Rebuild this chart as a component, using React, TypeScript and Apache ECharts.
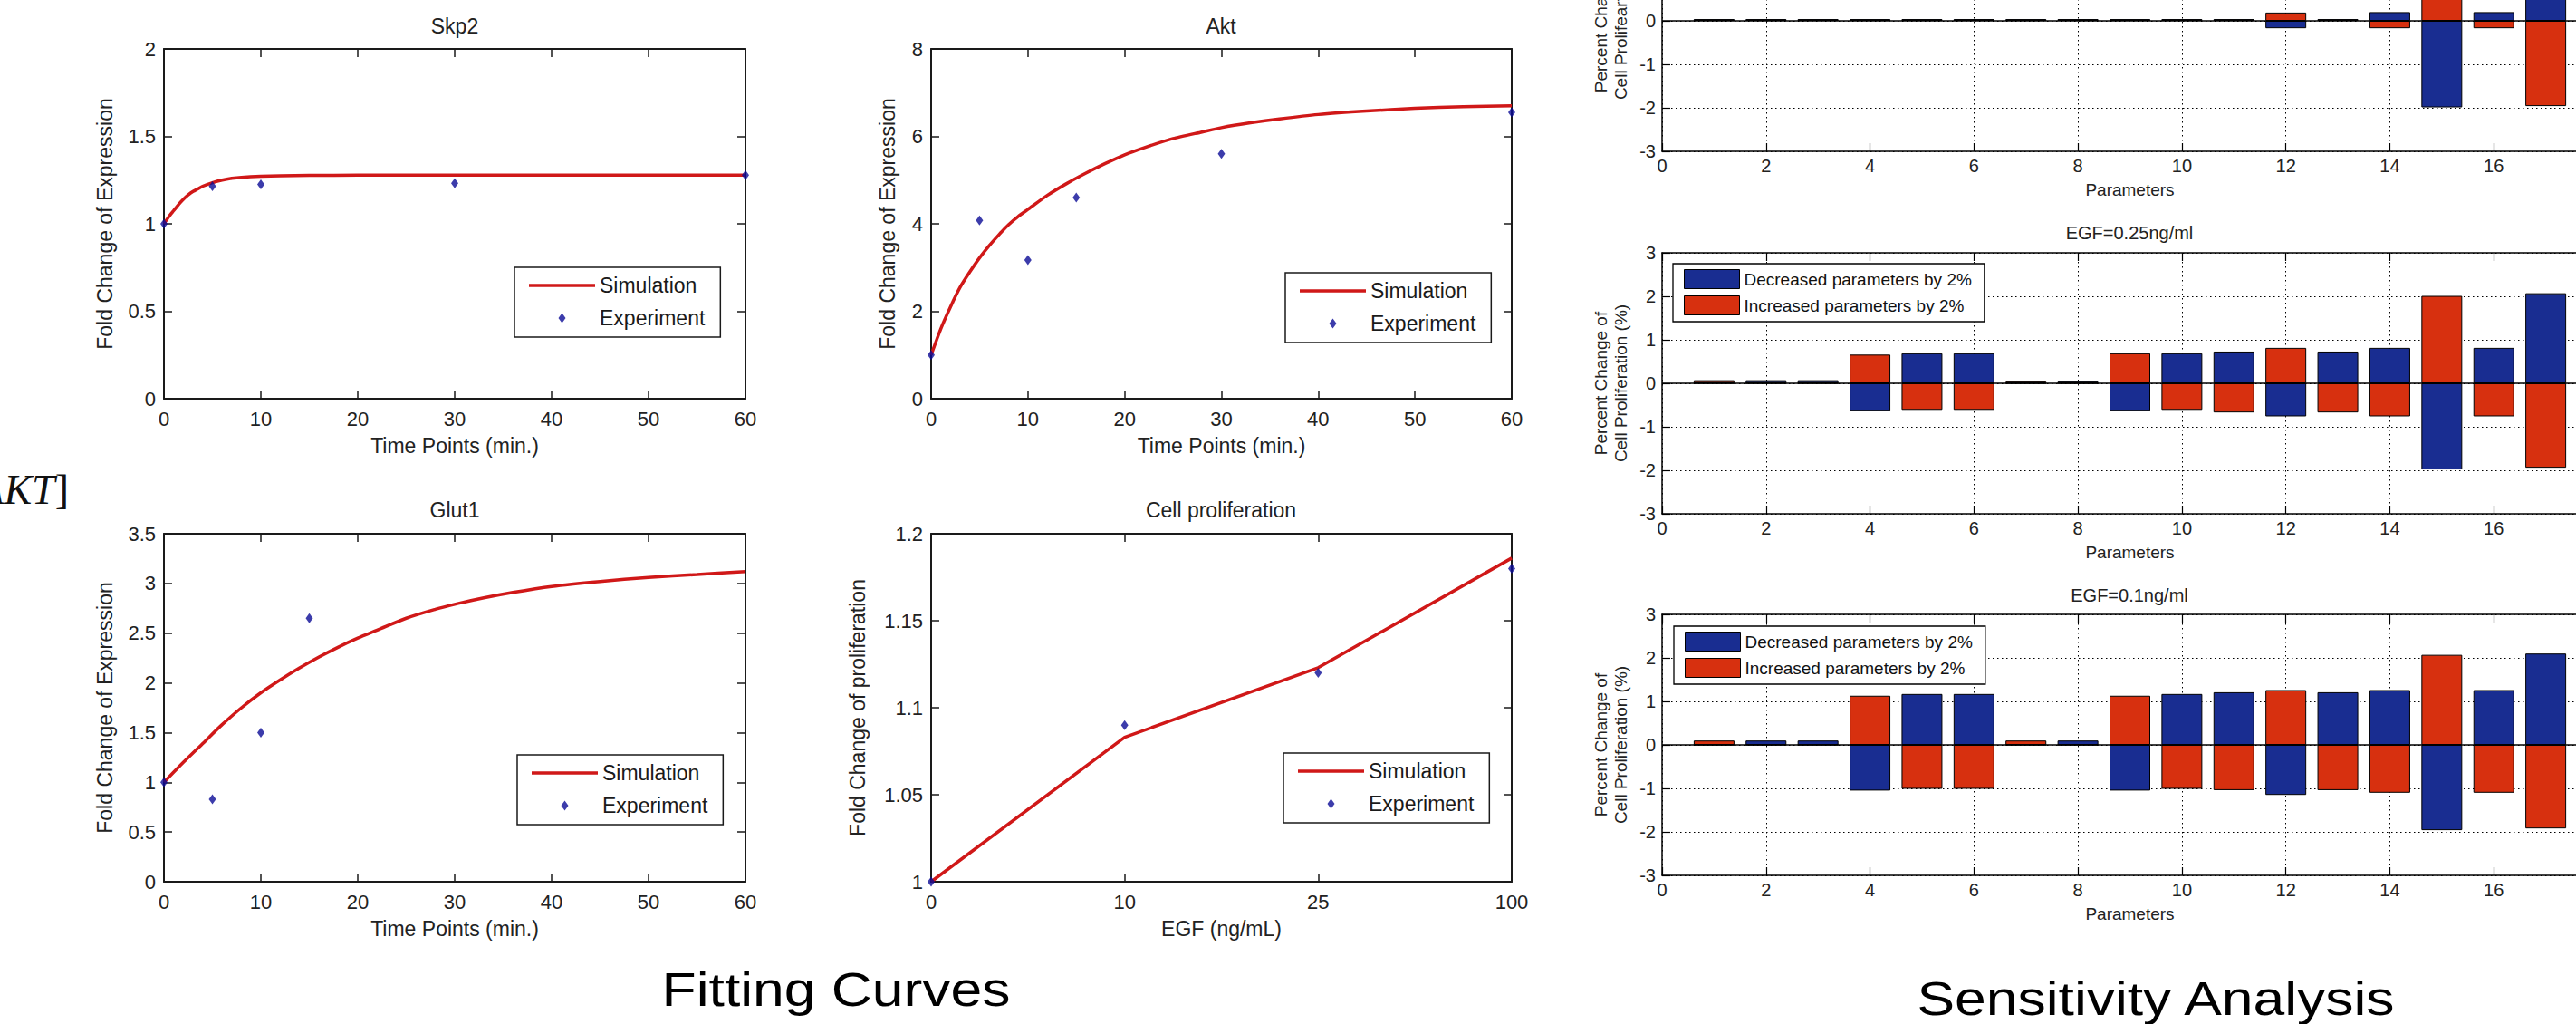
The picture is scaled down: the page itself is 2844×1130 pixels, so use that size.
import React, { useEffect, useRef } from 'react';
import * as echarts from 'echarts';

// ---------- Fitting curves data ----------
const skp2SimT = [0, 0.5, 1, 1.5, 2, 2.5, 3, 3.5, 4, 5, 6, 7, 8, 10, 12, 15, 20, 30, 40, 50, 60];
const skp2SimY = [1.0, 1.04, 1.075, 1.11, 1.14, 1.165, 1.185, 1.2, 1.215, 1.235, 1.25, 1.26, 1.266, 1.272, 1.275, 1.277, 1.278, 1.278, 1.278, 1.278, 1.278];
const skp2ExpT = [0, 5, 10, 30, 60];
const skp2ExpY = [1.0, 1.215, 1.225, 1.232, 1.278];

const aktSimT = [0, 1, 2, 3, 4, 5, 6, 7, 8, 9, 10, 12, 14, 16, 18, 20, 22, 25, 28, 30, 33, 36, 40, 45, 50, 55, 60];
const aktSimY = [1.0, 1.6, 2.1, 2.55, 2.9, 3.22, 3.5, 3.75, 3.98, 4.17, 4.33, 4.65, 4.92, 5.16, 5.38, 5.58, 5.74, 5.95, 6.1, 6.2, 6.31, 6.4, 6.5, 6.58, 6.64, 6.68, 6.7];
const aktExpT = [0, 5, 10, 15, 30, 60];
const aktExpY = [1.0, 4.08, 3.17, 4.6, 5.6, 6.55];

const glutSimT = [0, 2, 4, 6, 8, 10, 12, 14, 16, 18, 20, 22, 25, 28, 30, 33, 36, 40, 45, 50, 55, 60];
const glutSimY = [1.0, 1.2, 1.39, 1.58, 1.75, 1.9, 2.03, 2.15, 2.26, 2.36, 2.45, 2.53, 2.65, 2.74, 2.79, 2.855, 2.91, 2.97, 3.02, 3.06, 3.09, 3.12];
const glutExpT = [0, 5, 10, 15];
const glutExpY = [1.0, 0.83, 1.5, 2.65];

const egfCategories = ['0', '10', '25', '100'];
const cellSimY = [1.0, 1.083, 1.123, 1.186];
const cellExpY = [1.0, 1.09, 1.12, 1.18];

// ---------- Sensitivity analysis data ----------
const parameters = [1, 2, 3, 4, 5, 6, 7, 8, 9, 10, 11, 12, 13, 14, 15, 16, 17];
// top panel (partly outside the picture)
const decA = [0.04, 0.04, 0.04, 0.04, 0.04, 0.04, 0.04, 0.04, 0.04, 0.04, 0.04, -0.17, 0.04, 0.2, -1.99, 0.2, 2.05];
const incA = [0.03, 0.03, 0.03, 0.03, 0.03, 0.03, 0.03, 0.03, 0.03, 0.03, 0.03, 0.19, 0.03, -0.17, 2.0, -0.17, -1.96];
// EGF = 0.25 ng/ml
const decB = [0, 0.07, 0.07, -0.63, 0.69, 0.69, 0, 0.06, -0.63, 0.69, 0.73, -0.76, 0.73, 0.815, -1.98, 0.815, 2.07];
const incB = [0.07, 0, 0, 0.66, -0.61, -0.61, 0.06, 0, 0.69, -0.61, -0.67, 0.815, -0.67, -0.76, 2.01, -0.76, -1.94];
// EGF = 0.1 ng/ml
const decC = [0, 0.1, 0.1, -1.05, 1.17, 1.17, 0, 0.1, -1.05, 1.17, 1.21, -1.15, 1.21, 1.26, -1.96, 1.26, 2.1];
const incC = [0.1, 0, 0, 1.13, -1.01, -1.01, 0.1, 0, 1.13, -1.01, -1.04, 1.26, -1.04, -1.1, 2.07, -1.1, -1.92];

const FONT = "'Liberation Sans', Arial, Helvetica, sans-serif";
const SERIF = "'Liberation Serif', 'DejaVu Serif', 'Times New Roman', serif";
const BOX = '#1a1a1a';
const RED_LINE = '#d01818';
const BLUE_DOT = '#0b0b96';
const BAR_BLUE = '#192d91';
const BAR_RED = '#d7300f';
const DEC = 'Decreased parameters by 2%';
const INC = 'Increased parameters by 2%';
const DIAMOND_ICON =
  'path://M0,0L0.01,0L0,0.01Z M73,20L72.99,20L73,19.99Z M36.5,4.5L40.5,10L36.5,15.5L32.5,10Z';
const LINE_ICON = 'path://M0,0L0.01,0L0,0.01Z M73,20L72.99,20L73,19.99Z M0,8.2L73,8.2L73,11.8L0,11.8Z';

const grids = [
  { left: 181, top: 54, width: 642, height: 386 },
  { left: 1028, top: 54, width: 641, height: 386 },
  { left: 181, top: 589, width: 642, height: 384 },
  { left: 1028, top: 589, width: 641, height: 384 },
  { left: 1835, top: -121, width: 1033, height: 288 },
  { left: 1835, top: 279, width: 1033, height: 288 },
  { left: 1835, top: 678, width: 1033, height: 288 },
];

function zip(xs: number[], ys: number[]) {
  return xs.map((x, i) => [x, ys[i]]);
}

function buildOption() {
  const xAxis: any[] = [];
  const yAxis: any[] = [];
  const series: any[] = [];

  const fitX = (g: number, cfg: any, name: string) => {
    const common = {
      gridIndex: g,
      ...cfg,
      axisLine: { show: true, onZero: false, lineStyle: { color: BOX, width: 2 } },
      axisTick: { show: true, inside: true, length: 9, alignWithLabel: true, lineStyle: { color: BOX, width: 1.5 } },
      splitLine: { show: false },
    };
    xAxis.push({
      ...common,
      position: 'bottom',
      axisLabel: { show: true, margin: 11, fontSize: 22, color: '#222', fontFamily: FONT },
      name,
      nameLocation: 'middle',
      nameGap: 40,
      nameMoveOverlap: false,
      nameTextStyle: { fontSize: 23, color: '#222', fontFamily: FONT },
    });
    xAxis.push({ ...common, position: 'top', axisLabel: { show: false } });
  };
  const fitY = (g: number, cfg: any, name: string, gap: number) => {
    const common = {
      gridIndex: g,
      type: 'value',
      ...cfg,
      axisLine: { show: true, onZero: false, lineStyle: { color: BOX, width: 2 } },
      axisTick: { show: true, inside: true, length: 9, lineStyle: { color: BOX, width: 1.5 } },
      splitLine: { show: false },
    };
    yAxis.push({
      ...common,
      position: 'left',
      axisLabel: { show: true, margin: 9, fontSize: 22, color: '#222', fontFamily: FONT },
      name,
      nameLocation: 'middle',
      nameRotate: 90,
      nameGap: gap,
      nameMoveOverlap: false,
      nameTextStyle: { fontSize: 23, color: '#222', fontFamily: FONT },
    });
    yAxis.push({ ...common, position: 'right', axisLabel: { show: false } });
  };

  const timeCfg = { type: 'value', min: 0, max: 60, interval: 10 };
  fitX(0, timeCfg, 'Time Points (min.)');
  fitY(0, { min: 0, max: 2, interval: 0.5 }, 'Fold Change of Expression', 54);
  fitX(1, timeCfg, 'Time Points (min.)');
  fitY(1, { min: 0, max: 8, interval: 2 }, 'Fold Change of Expression', 37);
  fitX(2, timeCfg, 'Time Points (min.)');
  fitY(2, { min: 0, max: 3.5, interval: 0.5 }, 'Fold Change of Expression', 54);
  fitX(3, { type: 'category', data: egfCategories, boundaryGap: false }, 'EGF (ng/mL)');
  fitY(3, { min: 1, max: 1.2, interval: 0.05 }, 'Fold Change of proliferation', 70);

  const simLine = (g: number, data: any[], smooth: number) => ({
    type: 'line',
    name: 'Simulation',
    xAxisIndex: 2 * g,
    yAxisIndex: 2 * g,
    data,
    symbol: 'none',
    showSymbol: false,
    smooth,
    lineStyle: { color: RED_LINE, width: 3.5 },
    itemStyle: { color: RED_LINE },
    z: 2,
  });
  const expDots = (g: number, data: any[]) => ({
    type: 'scatter',
    name: 'Experiment',
    xAxisIndex: 2 * g,
    yAxisIndex: 2 * g,
    data,
    symbol: 'diamond',
    symbolSize: [8, 11],
    clip: false,
    itemStyle: { color: BLUE_DOT },
    z: 3,
  });
  series.push(simLine(0, zip(skp2SimT, skp2SimY), 0.2), expDots(0, zip(skp2ExpT, skp2ExpY)));
  series.push(simLine(1, zip(aktSimT, aktSimY), 0.2), expDots(1, zip(aktExpT, aktExpY)));
  series.push(simLine(2, zip(glutSimT, glutSimY), 0.3), expDots(2, zip(glutExpT, glutExpY)));
  series.push(simLine(3, cellSimY, 0), expDots(3, cellExpY));

  // ---- bar panels ----
  const dotted = { color: '#000', width: 1, type: [1.5, 3.5] };
  const barPanel = (g: number, dec: number[], inc: number[], yName: string) => {
    const xCommon = {
      gridIndex: g,
      type: 'value',
      min: 0,
      max: 18,
      interval: 2,
      axisLine: { show: true, onZero: false, lineStyle: { color: '#000', width: 1.5 } },
      axisTick: { show: true, inside: true, length: 9, lineStyle: { color: '#000', width: 1.2 } },
    };
    xAxis.push({
      ...xCommon,
      position: 'bottom',
      axisLabel: { show: true, margin: 6, fontSize: 20, color: '#222', fontFamily: FONT },
      splitLine: { show: true, lineStyle: dotted },
      name: 'Parameters',
      nameLocation: 'middle',
      nameGap: 33,
      nameMoveOverlap: false,
      nameTextStyle: { fontSize: 19, color: '#222', fontFamily: FONT },
    });
    xAxis.push({ ...xCommon, position: 'top', axisLabel: { show: false }, splitLine: { show: false } });
    const yCommon = {
      gridIndex: g,
      type: 'value',
      min: -3,
      max: 3,
      interval: 1,
      axisLine: { show: true, onZero: false, lineStyle: { color: '#000', width: 1.5 } },
      axisTick: { show: true, inside: true, length: 9, lineStyle: { color: '#000', width: 1.2 } },
    };
    yAxis.push({
      ...yCommon,
      position: 'left',
      axisLabel: { show: true, margin: 7, fontSize: 20, color: '#222', fontFamily: FONT },
      splitLine: { show: true, lineStyle: dotted },
      name: yName,
      nameLocation: 'middle',
      nameRotate: 90,
      nameGap: 35,
      nameMoveOverlap: false,
      nameTextStyle: { fontSize: 19, lineHeight: 22, color: '#222', fontFamily: FONT },
    });
    yAxis.push({ ...yCommon, position: 'right', axisLabel: { show: false }, splitLine: { show: false } });

    const bar = (name: string, vals: number[], color: string, withBase: boolean) => ({
      type: 'bar',
      name,
      xAxisIndex: 2 * g,
      yAxisIndex: 2 * g,
      data: zip(parameters, vals),
      barWidth: 45,
      barGap: '-100%',
      itemStyle: { color, borderColor: '#000', borderWidth: 1 },
      z: 2,
      ...(withBase
        ? {
            markLine: {
              silent: true,
              symbol: ['none', 'none'],
              label: { show: false },
              lineStyle: { color: '#000', width: 1.6, type: 'solid' },
              data: [{ yAxis: 0 }],
              z: 5,
            },
          }
        : {}),
    });
    series.push(bar(DEC, dec, BAR_BLUE, false), bar(INC, inc, BAR_RED, true));
  };
  barPanel(4, decA, incA, 'Percent Change of\nCell Prolifeartion (%)');
  barPanel(5, decB, incB, 'Percent Change of\nCell Proliferation (%)');
  barPanel(6, decC, incC, 'Percent Change of\nCell Proliferation (%)');

  const fitLegend = (left: number, top: number) => ({
    left,
    top,
    orient: 'vertical',
    selectedMode: false,
    backgroundColor: '#fff',
    borderColor: BOX,
    borderWidth: 1.5,
    borderRadius: 0,
    padding: [8, 17, 9, 16],
    itemGap: 12,
    itemWidth: 73,
    itemHeight: 20,
    textStyle: { fontFamily: FONT, fontSize: 23, color: '#1a1a1a', lineHeight: 24 },
    data: [
      { name: 'Simulation', icon: LINE_ICON, itemStyle: { color: RED_LINE } },
      { name: 'Experiment', icon: DIAMOND_ICON, itemStyle: { color: BLUE_DOT } },
    ],
    z: 10,
  });
  const barLegend = (left: number, top: number) => ({
    left,
    top,
    orient: 'vertical',
    selectedMode: false,
    backgroundColor: '#fff',
    borderColor: '#000',
    borderWidth: 1.3,
    borderRadius: 0,
    padding: [6, 14, 7, 12],
    itemGap: 7,
    itemWidth: 61,
    itemHeight: 21,
    icon: 'rect',
    itemStyle: { borderColor: '#000', borderWidth: 1 },
    textStyle: { fontFamily: FONT, fontSize: 19, color: '#111', lineHeight: 21 },
    data: [DEC, INC],
    z: 10,
  });

  const title = (text: string, cx: number, cy: number, fs: number) => ({
    text,
    left: cx,
    top: cy - fs / 2,
    textAlign: 'center',
    padding: 0,
    textStyle: { fontFamily: FONT, fontSize: fs, fontWeight: 'normal', color: '#222' },
  });

  return {
    animation: false,
    backgroundColor: '#fff',
    grid: grids.map((g) => ({ ...g, outerBoundsMode: 'none', containLabel: false })),
    xAxis,
    yAxis,
    series,
    legend: [
      fitLegend(568, 295),
      fitLegend(1419, 301),
      fitLegend(571, 833),
      fitLegend(1417, 831),
      barLegend(1847, 291),
      barLegend(1848, 691),
    ],
    title: [
      title('Skp2', 502, 29, 23),
      title('Akt', 1348, 29, 23),
      title('Glut1', 502, 563, 23),
      title('Cell proliferation', 1348, 563, 23),
      title('EGF=0.25ng/ml', 2351, 257, 20),
      title('EGF=0.1ng/ml', 2351, 657, 20),
    ],
    graphic: [
      {
        type: 'text',
        x: 76,
        y: 540,
        style: {
          text: '{u|[}{i|AKT}{u|]}',
          align: 'right',
          verticalAlign: 'middle',
          rich: {
            u: { fontFamily: SERIF, fontSize: 46, fill: '#111' },
            i: { fontFamily: SERIF, fontSize: 46, fontStyle: 'italic', fill: '#111' },
          },
        },
      },
      {
        type: 'text',
        x: 923,
        y: 1092,
        scaleX: 1.2,
        style: { text: 'Fitting Curves', fontFamily: FONT, fontSize: 52, fill: '#000', align: 'center', verticalAlign: 'middle' },
      },
      {
        type: 'text',
        x: 2380,
        y: 1102,
        scaleX: 1.2,
        style: { text: 'Sensitivity Analysis', fontFamily: FONT, fontSize: 52, fill: '#000', align: 'center', verticalAlign: 'middle' },
      },
    ],
  };
}

export default function App() {
  const ref = useRef<HTMLDivElement>(null);
  useEffect(() => {
    if (!ref.current) return;
    const chart = echarts.init(ref.current, undefined, { renderer: 'svg', width: 2844, height: 1130 });
    chart.setOption(buildOption() as any);
    return () => chart.dispose();
  }, []);
  return (
    <div
      ref={ref}
      style={{ position: 'fixed', left: 0, top: 0, width: 2844, height: 1130, background: '#fff', overflow: 'hidden' }}
    />
  );
}
